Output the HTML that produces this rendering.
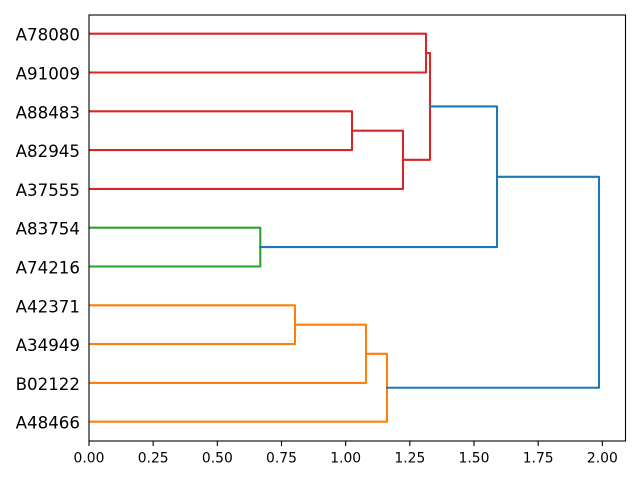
<!DOCTYPE html>
<html><head><meta charset="utf-8"><style>
html,body{margin:0;padding:0;background:#fff;}
svg{display:block;}
text{font-family:"DejaVu Sans","Liberation Sans",sans-serif;fill:#000;}
</style></head><body>
<svg width="640" height="480" viewBox="0 0 640 480" xmlns="http://www.w3.org/2000/svg">
<defs><clipPath id="ax"><rect x="89" y="15" width="536.5" height="426"/></clipPath></defs>
<rect width="640" height="480" fill="#fff"/>
<g clip-path="url(#ax)" fill="none" stroke-width="2.08" stroke-linejoin="round" stroke-linecap="square">
<path stroke="#d62728" d="M89,33.7 H426 V72.5 H89"/>
<path stroke="#d62728" d="M89,111.3 H352 V150.1 H89"/>
<path stroke="#d62728" d="M352,130.7 H403 V188.9 H89"/>
<path stroke="#d62728" d="M426,53.1 H430 V159.8 H403"/>
<path stroke="#2ca02c" d="M89,227.7 H260.3 V266.5 H89"/>
<path stroke="#ff7f0e" d="M89,305.3 H295 V344.1 H89"/>
<path stroke="#ff7f0e" d="M295,324.7 H366 V382.9 H89"/>
<path stroke="#ff7f0e" d="M366,353.8 H387 V421.7 H89"/>
<path stroke="#1f77b4" d="M430,106.45 H497 V247.1 H260.3"/>
<path stroke="#1f77b4" d="M497,176.8 H599 V387.75 H387"/>
</g>
<rect x="89" y="15" width="536.5" height="426" fill="none" stroke="#000" stroke-width="1.1"/>
<g stroke="#000" stroke-width="1.1">
<line x1="89" y1="441" x2="89" y2="446"/>
<line x1="153.17" y1="441" x2="153.17" y2="446"/>
<line x1="217.33" y1="441" x2="217.33" y2="446"/>
<line x1="281.5" y1="441" x2="281.5" y2="446"/>
<line x1="345.67" y1="441" x2="345.67" y2="446"/>
<line x1="409.83" y1="441" x2="409.83" y2="446"/>
<line x1="474" y1="441" x2="474" y2="446"/>
<line x1="538.17" y1="441" x2="538.17" y2="446"/>
<line x1="602.33" y1="441" x2="602.33" y2="446"/>
</g>
<g font-size="13.89" text-anchor="middle">
<text x="89" y="462.5">0.00</text>
<text x="153.17" y="462.5">0.25</text>
<text x="217.33" y="462.5">0.50</text>
<text x="281.5" y="462.5">0.75</text>
<text x="345.67" y="462.5">1.00</text>
<text x="409.83" y="462.5">1.25</text>
<text x="474" y="462.5">1.50</text>
<text x="538.17" y="462.5">1.75</text>
<text x="602.33" y="462.5">2.00</text>
</g>
<g font-size="16.67" text-anchor="end">
<text x="80" y="40.7">A78080</text>
<text x="80" y="79.5">A91009</text>
<text x="80" y="118.3">A88483</text>
<text x="80" y="157.1">A82945</text>
<text x="80" y="195.9">A37555</text>
<text x="80" y="234.7">A83754</text>
<text x="80" y="273.5">A74216</text>
<text x="80" y="312.3">A42371</text>
<text x="80" y="351.1">A34949</text>
<text x="80" y="389.9">B02122</text>
<text x="80" y="428.7">A48466</text>
</g>
</svg>
</body></html>
